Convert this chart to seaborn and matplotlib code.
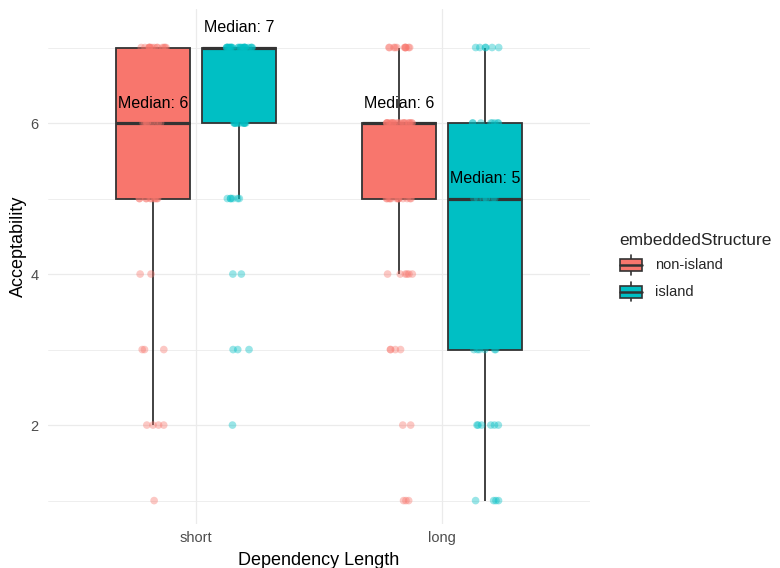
import numpy as np
import pandas as pd
import matplotlib
matplotlib.use("Agg")
import matplotlib.pyplot as plt
import seaborn as sns
from matplotlib.legend_handler import HandlerBase
from matplotlib.patches import Patch, Rectangle
from matplotlib.lines import Line2D

# ratings 1..7 and how many responses fell on each, per condition
scores = [1, 2, 3, 4, 5, 6, 7]
lengths = ['short', 'long']
structures = ['non-island', 'island']
counts_short_nonisland = [1, 4, 3, 2, 10, 8, 14]
counts_short_island = [0, 1, 3, 2, 6, 12, 26]
counts_long_nonisland = [3, 2, 4, 6, 13, 22, 11]
counts_long_island = [4, 6, 6, 4, 7, 8, 6]

palette = ['#F8766D', '#00BFC4']
EDGE = '#333333'
GRID = '#EBEBEB'

rows = []
for length, structure, counts in [
    ('short', 'non-island', counts_short_nonisland),
    ('short', 'island', counts_short_island),
    ('long', 'non-island', counts_long_nonisland),
    ('long', 'island', counts_long_island),
]:
    for s, n in zip(scores, counts):
        rows += [(length, structure, s)] * n
df = pd.DataFrame(rows, columns=['dependencyLength', 'embeddedStructure', 'Acceptability'])

sns.set_style('white')
plt.rcParams['font.family'] = ['Liberation Sans', 'DejaVu Sans']

fig, ax = plt.subplots(figsize=(7.8, 5.68), dpi=100)
fig.subplots_adjust(left=48 / 780, right=590 / 780, bottom=44 / 568, top=559 / 568)

sns.boxplot(data=df, x='dependencyLength', y='Acceptability', hue='embeddedStructure',
            order=lengths, hue_order=structures, palette=palette, saturation=1,
            width=0.7, gap=0.143, showfliers=False, showcaps=False,
            linewidth=1.3, linecolor=EDGE, medianprops={'linewidth': 2.3},
            legend=False, ax=ax)

n_before = len(ax.collections)
np.random.seed(3)
sns.stripplot(data=df, x='dependencyLength', y='Acceptability', hue='embeddedStructure',
              order=lengths, hue_order=structures, palette=palette, dodge=True,
              jitter=0.13, size=5.5, alpha=0.4, linewidth=0, legend=False, zorder=3, ax=ax)
# pull the dodged points in so they sit on the box centres (0.7 dodge instead of 0.8)
for coll in ax.collections[n_before:]:
    offs = coll.get_offsets()
    if len(offs):
        cat = np.round(offs[:, 0])
        offs[:, 0] = cat + (offs[:, 0] - cat) * 0.875
        coll.set_offsets(offs)

# median labels
medians = df.groupby(['dependencyLength', 'embeddedStructure'])['Acceptability'].median()
for i, length in enumerate(lengths):
    for j, structure in enumerate(structures):
        m = medians[(length, structure)]
        xpos = i + (j - 0.5) * 0.35
        ax.text(xpos, m + 0.2, f'Median: {m:g}', ha='center', va='baseline',
                fontsize=11.5, color='black', zorder=5)

ax.set_ylim(0.69, 7.51)
ax.set_xlim(-0.6, 1.6)
ax.set_yticks([2, 4, 6])
ax.set_yticks([1, 3, 5, 7], minor=True)
ax.grid(True, which='major', color=GRID, linewidth=0.9, zorder=0)
ax.grid(True, which='minor', axis='y', color=GRID, linewidth=0.6, zorder=0)
ax.set_axisbelow(True)
for sp in ax.spines.values():
    sp.set_visible(False)
ax.tick_params(axis='both', which='both', length=0, labelsize=10.5, labelcolor='#4D4D4D')
ax.tick_params(axis='y', pad=7)
ax.tick_params(axis='x', pad=5)
ax.set_xlabel('Dependency Length', fontsize=13, color='black', labelpad=5)
ax.set_ylabel('Acceptability', fontsize=13, color='black')
ax.yaxis.set_label_coords(-21 / 542, 0.54)


class BoxKey(HandlerBase):
    def create_artists(self, legend, orig_handle, xdescent, ydescent, width, height, fontsize, trans):
        x0, y0 = -xdescent, -ydescent
        cx = x0 + width / 2
        bw, bh = width * 0.95, height * 0.62
        whisker = Line2D([cx, cx], [y0, y0 + height], color=EDGE, lw=1.2, transform=trans)
        box = Rectangle((cx - bw / 2, y0 + (height - bh) / 2), bw, bh,
                        facecolor=orig_handle.get_facecolor(), edgecolor=EDGE, lw=1.2, transform=trans)
        med = Line2D([cx - bw / 2, cx + bw / 2], [y0 + height / 2] * 2, color=EDGE, lw=1.8, transform=trans)
        return [whisker, box, med]


handles = [Patch(facecolor=c) for c in palette]
leg = fig.legend(handles, structures, title='embeddedStructure', loc='center left',
                 bbox_to_anchor=(612 / 780, 1 - 267 / 568), frameon=False,
                 fontsize=10.5, title_fontsize=12.5, handlelength=1.6, handleheight=1.7,
                 handletextpad=0.85, labelspacing=0.5, borderpad=0, alignment='left',
                 handler_map={Patch: BoxKey()})

fig.savefig('out.png', dpi=100)
